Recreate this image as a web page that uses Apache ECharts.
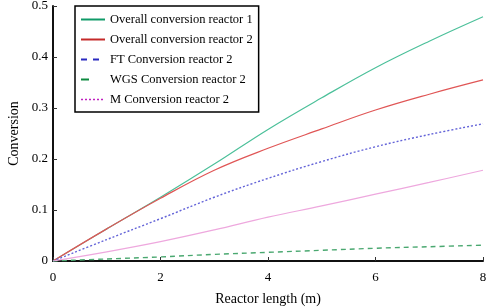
<!DOCTYPE html>
<html>
<head>
<meta charset="utf-8">
<script src="https://cdn.jsdelivr.net/npm/echarts@6/dist/echarts.min.js"></script>
<style>
  html, body { margin: 0; padding: 0; background: #fff; }
  #chart { width: 488px; height: 307px; }
</style>
</head>
<body>
<div id="chart"></div>
<script>
// reactor length (m)
const lengths = [0, 1, 2, 3, 4, 5, 6, 7, 8]
const overall1 = [0, 0.063, 0.125, 0.19, 0.258, 0.32, 0.379, 0.431, 0.479]
const overall2 = [0, 0.063, 0.123, 0.178, 0.221, 0.259, 0.296, 0.327, 0.355]
const ftConv = [0, 0.042, 0.083, 0.125, 0.162, 0.195, 0.224, 0.248, 0.269]
const wgsConv = [0, 0.004, 0.008, 0.013, 0.017, 0.021, 0.025, 0.028, 0.031]
const mConv = [0, 0.018, 0.038, 0.061, 0.086, 0.108, 0.131, 0.154, 0.178]
const yTicks = [0, 0.1, 0.2, 0.3, 0.4, 0.5]
const xTicks = [0, 2, 4, 6, 8]

const font = 'Liberation Serif, Times New Roman, serif'
const pairs = arr => lengths.map((x, i) => [x, arr[i]])

const chart = echarts.init(document.getElementById('chart'))

const line = (name, data, color, type, width) => ({
  name: name,
  type: 'line',
  data: pairs(data),
  smooth: 0.4,
  symbol: 'none',
  lineStyle: { color: color, type: type, width: width },
  itemStyle: { color: color },
  z: 2
})

// legend icons differ from plotted styles in the original figure
const legendItem = (name, color, type, width) => ({
  name: name,
  lineStyle: { color: color, type: type, width: width },
  itemStyle: { opacity: 0 }
})

const option = {
  animation: false,
  textStyle: { fontFamily: font },
  grid: { left: 53, right: 5, top: 6, bottom: 46, outerBoundsMode: 'none' },
  xAxis: {
    type: 'value',
    min: 0,
    max: 8,
    interval: 2,
    name: 'Reactor length (m)',
    nameLocation: 'middle',
    nameGap: 31,
    nameTextStyle: { fontFamily: font, fontSize: 14, color: '#000' },
    axisLine: { onZero: false, lineStyle: { color: '#111', width: 2 } },
    axisTick: { inside: true, length: 4, lineStyle: { color: '#333' } },
    axisLabel: { fontFamily: font, fontSize: 13, color: '#000', margin: 10,
      formatter: v => xTicks.includes(v) ? String(v) : '' },
    splitLine: { show: false }
  },
  yAxis: {
    type: 'value',
    min: 0,
    max: 0.5,
    interval: 0.1,
    name: 'Conversion',
    nameLocation: 'middle',
    nameGap: 32,
    nameTextStyle: { fontFamily: font, fontSize: 14, color: '#000' },
    axisLine: { show: true, lineStyle: { color: '#111', width: 2 } },
    axisTick: { show: true, inside: true, length: 4, lineStyle: { color: '#333' } },
    axisLabel: { fontFamily: font, fontSize: 13, color: '#000', margin: 5,
      formatter: v => {
        const t = yTicks.find(k => Math.abs(k - v) < 1e-9)
        return t === undefined ? '' : String(+t.toFixed(1))
      } },
    splitLine: { show: false }
  },
  legend: {
    orient: 'vertical',
    left: 75,
    top: 6,
    padding: [7, 6, 6, 5],
    itemWidth: 24,
    itemHeight: 12,
    itemGap: 7,
    borderColor: '#000',
    borderWidth: 1.5,
    backgroundColor: '#fff',
    textStyle: { fontFamily: font, fontSize: 12.5, color: '#000' },
    data: [
      legendItem('Overall conversion reactor 1', '#109a68', 'solid', 2),
      legendItem('Overall conversion reactor 2', '#c42a2a', 'solid', 2),
      legendItem('FT Conversion reactor 2', '#2a2ac0', [6, 6], 2),
      legendItem('WGS Conversion reactor 2', '#0e8a40', [8, 30], 2),
      legendItem('M Conversion reactor 2', '#c020c0', [2, 2], 1.5)
    ]
  },
  series: [
    line('Overall conversion reactor 1', overall1, '#4cc09a', 'solid', 1.2),
    line('Overall conversion reactor 2', overall2, '#e05656', 'solid', 1.2),
    line('FT Conversion reactor 2', ftConv, '#6464d8', [2, 2], 1.4),
    line('WGS Conversion reactor 2', wgsConv, '#4aa870', [5, 4], 1.4),
    line('M Conversion reactor 2', mConv, '#eea8de', 'solid', 1.2)
  ]
}

chart.setOption(option)
</script>
</body>
</html>
